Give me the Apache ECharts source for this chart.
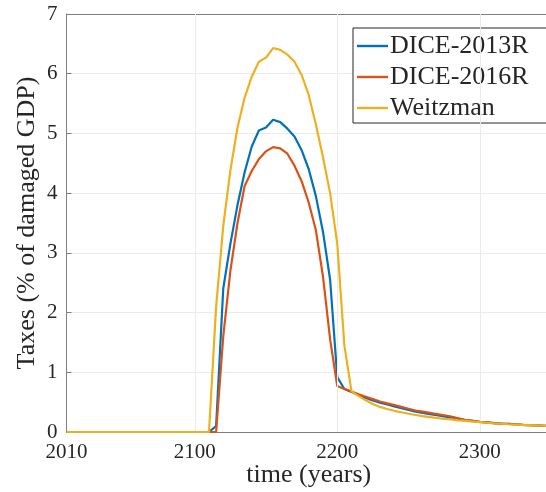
<!DOCTYPE html>
<html>
<head>
<meta charset="utf-8">
<script src="https://cdn.jsdelivr.net/npm/echarts@6/dist/echarts.min.js"></script>
<style>
html,body{margin:0;padding:0;background:#fff;}
#c{width:546px;height:492px;}
</style>
</head>
<body>
<div id="c"></div>
<script>
const years = [2010,2015,2020,2025,2030,2035,2040,2045,2050,2055,2060,2065,2070,2075,2080,2085,2090,2095,2100,2105,
2110,2115,2120,2125,2130,2135,2140,2145,2150,2155,2160,2165,2170,2175,2180,2185,2190,2195,2200,2205,
2210,2215,2220,2225,2230,2235,2240,2245,2250,2255,2260,2265,2270,2275,2280,2285,2290,2295,2300,2305,
2310,2315,2320,2325,2330,2335,2340,2345,2350];

const dice2013R = [0,0,0,0,0,0,0,0,0,0,0,0,0,0,0,0,0,0,0,0,
0,0.1,2.4,3.15,3.8,4.35,4.78,5.05,5.1,5.23,5.19,5.08,4.95,4.72,4.4,3.95,3.35,2.55,0.92,0.72,
0.67,0.62,0.57,0.53,0.49,0.46,0.43,0.40,0.37,0.34,0.32,0.30,0.28,0.26,0.24,0.22,0.20,0.185,0.17,0.16,
0.15,0.14,0.135,0.13,0.12,0.115,0.11,0.105,0.1];

const dice2016R = [0,0,0,0,0,0,0,0,0,0,0,0,0,0,0,0,0,0,0,0,
0,0,1.6,2.7,3.5,4.12,4.37,4.57,4.7,4.77,4.75,4.66,4.46,4.2,3.84,3.38,2.6,1.55,0.77,0.72,
0.68,0.63,0.59,0.55,0.51,0.48,0.45,0.42,0.39,0.36,0.34,0.32,0.30,0.28,0.26,0.23,0.20,0.185,0.17,0.16,
0.15,0.14,0.135,0.13,0.12,0.115,0.11,0.105,0.1];

const weitzman = [0,0,0,0,0,0,0,0,0,0,0,0,0,0,0,0,0,0,0,0,
0,2.1,3.45,4.38,5.1,5.6,5.95,6.2,6.27,6.43,6.4,6.32,6.2,5.98,5.64,5.15,4.6,4.0,3.15,1.45,
0.68,0.6,0.53,0.47,0.42,0.385,0.355,0.33,0.305,0.285,0.265,0.25,0.235,0.22,0.21,0.195,0.185,0.175,0.165,0.155,
0.145,0.14,0.13,0.125,0.12,0.115,0.11,0.105,0.1];

const xTickLabels = [2010, 2100, 2200, 2300];
const xGridValues = [2100, 2200, 2300];
const seriesNames = ['DICE-2013R', 'DICE-2016R', 'Weitzman'];
const seriesColors = ['#0072BD', '#D95319', '#EDB120'];

const pair = arr => years.map((y, i) => [y, arr[i]]);

const FONT = 'Liberation Serif';
const TXT = '#262626';
const AX = '#7f7f7f';
const GRID = '#ebebeb';

const chart = echarts.init(document.getElementById('c'), null, {renderer: 'canvas'});
chart.setOption({
  animation: false,
  backgroundColor: '#fff',
  grid: {left: 66.5, right: -5, top: 14, bottom: 60, containLabel: false, outerBoundsMode: 'none'},
  legend: {
    orient: 'vertical',
    left: 353, top: 28,
    padding: [5, 20, 2, 4],
    icon: 'rect',
    itemWidth: 31, itemHeight: 2.4, itemGap: 5,
    backgroundColor: '#fff',
    borderColor: '#262626', borderWidth: 1,
    textStyle: {fontFamily: FONT, fontSize: 26, color: TXT, padding: [0,0,0,-3]},
    data: seriesNames.map((n, k) => ({name: n, itemStyle: {color: seriesColors[k]}}))
  },
  xAxis: [{
    type: 'value', min: 2010, max: 2350,
    name: 'time (years)', nameLocation: 'middle', nameGap: 30, nameMoveOverlap: false,
    nameTextStyle: {fontFamily: FONT, fontSize: 26, color: TXT},
    axisLine: {show: true, lineStyle: {color: AX, width: 1}},
    axisTick: {show: true, inside: true, length: 5, lineStyle: {color: AX}, customValues: xGridValues},
    axisLabel: {fontFamily: FONT, fontSize: 21, color: TXT, margin: 10, customValues: xTickLabels,
      formatter: v => String(v)},
    splitLine: {show: false}
  }, {
    type: 'value', min: 2010, max: 2350, position: 'top',
    axisLine: {show: true, lineStyle: {color: AX, width: 1}},
    axisTick: {show: true, inside: true, length: 5, lineStyle: {color: AX}, customValues: xGridValues},
    axisLabel: {show: false},
    splitLine: {show: false}
  }],
  yAxis: {
    type: 'value', min: 0, max: 7, interval: 1,
    name: 'Taxes (% of damaged GDP)', nameLocation: 'middle', nameGap: 26, nameMoveOverlap: false,
    nameTextStyle: {fontFamily: FONT, fontSize: 26, color: TXT},
    axisLine: {show: true, lineStyle: {color: AX, width: 1}},
    axisTick: {show: true, inside: true, length: 5, lineStyle: {color: AX}},
    axisLabel: {fontFamily: FONT, fontSize: 21, color: TXT, margin: 9},
    splitLine: {show: true, lineStyle: {color: GRID, width: 1}}
  },
  series: [
    {
      type: 'line', name: '_grid', data: [], silent: true, z: 1,
      markLine: {
        silent: true, symbol: 'none', label: {show: false},
        lineStyle: {color: GRID, width: 1, type: 'solid'},
        data: xGridValues.map(v => ({xAxis: v}))
      }
    },
    ...[dice2013R, dice2016R, weitzman].map((arr, k) => ({
      type: 'line', name: seriesNames[k], data: pair(arr),
      symbol: 'none', showSymbol: false, z: 3 + k,
      lineStyle: {color: seriesColors[k], width: 2.2},
      itemStyle: {color: seriesColors[k]}
    }))
  ]
});
</script>
</body>
</html>
